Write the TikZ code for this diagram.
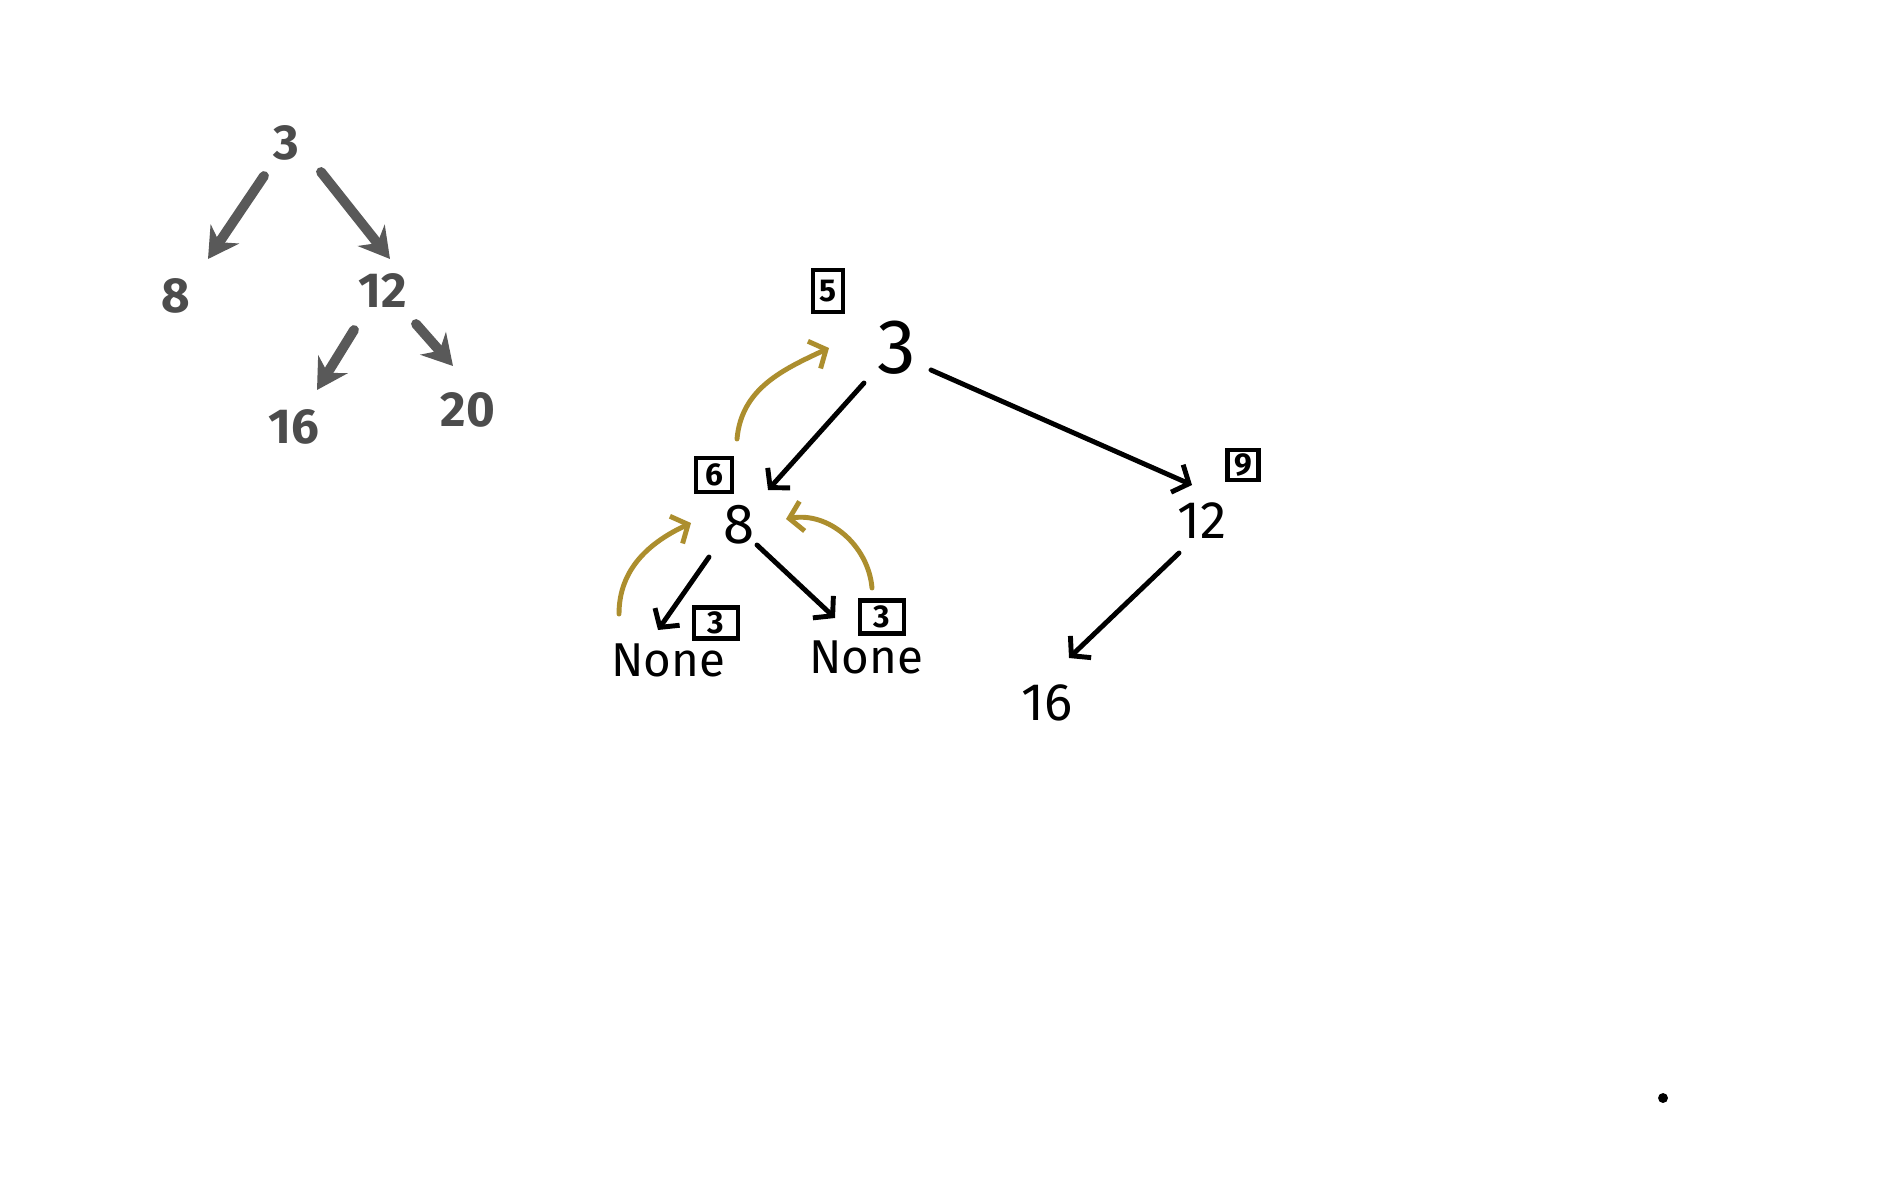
\documentclass[tikz,border=0pt]{standalone}
\usepackage{fontspec}
\setsansfont{Fira Sans}
\usepackage{tikz}
\usetikzlibrary{arrows.meta}
\definecolor{gold}{RGB}{172,142,46}

\begin{document}
\begin{tikzpicture}[x=0.01cm,y=0.01cm,
  lbl/.style = {inner sep=2pt, font=\sffamily\fontsize{15}{18}\selectfont},
  box/.style = {draw, line width=1.3pt, inner sep=1pt, font=\sffamily\bfseries\fontsize{9}{10}\selectfont},
  link/.style = {line width=1.4pt, line cap=round, -{Straight Barb[length=1.3mm,width=3mm]}},
  back/.style = {draw=gold, line width=1.4pt, line cap=round, -{Straight Barb[length=1.3mm,width=3mm]}},
  fog/.style = {inner sep=2pt, text=black!70, font=\sffamily\bfseries\fontsize{14}{16}\selectfont},
  fogedge/.style = {draw=black!65, line width=2.8pt, line cap=round, -{Stealth[length=3mm,width=3.4mm]}}]
\fill[white] (0,0) rectangle (1900,-1200);
\useasboundingbox (0,0) rectangle (1900,-1200);

% blurred tree
\node[fog] (a3) at (286,-143) {3};
\node[fog] (a8) at (176,-296) {8};
\node[fog] (a12) at (383,-291) {12};
\node[fog] (a16) at (294,-427) {16};
\node[fog] (a20) at (468,-410) {20};
\draw[fogedge] ([shift={(-22,-33)}]a3.center) -- ([shift={(32,37)}]a8.center);
\draw[fogedge] ([shift={(35,-29)}]a3.center) -- ([shift={(7,32)}]a12.center);
\draw[fogedge] ([shift={(-29,-39)}]a12.center) -- ([shift={(23,37)}]a16.center);
\draw[fogedge] ([shift={(33,-33)}]a12.center) -- ([shift={(-15,44)}]a20.center);

% main tree
\node[lbl, font=\sffamily\fontsize{22}{24}\selectfont] (3) at (897,-348) {3};
\node[lbl, font=\sffamily\fontsize{16}{18}\selectfont] (8) at (739,-525) {8};
\node[lbl] (12) at (1202,-521) {12};
\node[lbl, font=\sffamily\fontsize{13.5}{16}\selectfont] (nl) at (668,-660) {None};
\node[lbl, font=\sffamily\fontsize{13.5}{16}\selectfont] (nr) at (866,-657) {None};
\node[lbl] (16) at (1047,-703) {16};
\draw[link] ([shift={(-33,-35)}]3.center) -- ([shift={(29,35)}]8.center);
\draw[link] ([shift={(34,-22)}]3.center) -- ([shift={(-10,36)}]12.center);
\draw[link] ([shift={(-30,-32)}]8.center) -- ([shift={(-10,30)}]nl.center);
\draw[link] ([shift={(18,-20)}]8.center) -- ([shift={(-31,39)}]nr.center);
\draw[link] ([shift={(-23,-32)}]12.center) -- ([shift={(22,45)}]16.center);

% counts
\node[box, minimum width=0.3cm, minimum height=0.42cm] (s5) at (828,-291) {5};
\node[box, minimum width=0.36cm, minimum height=0.34cm] (s6) at (714,-475) {6};
\node[box, minimum width=0.44cm, minimum height=0.31cm] (s3a) at (716,-623) {3};
\node[box, minimum width=0.44cm, minimum height=0.33cm] (s3b) at (882,-617) {3};
\node[box, minimum width=0.31cm, minimum height=0.29cm] (s9) at (1243,-465) {9};

% returns
\draw[back] ([shift={(-2,86)}]8.center) to[out=85,in=205] ([shift={(-68,0)}]3.center);
\draw[back] ([shift={(-49,46)}]nl.center) to[out=90,in=205] ([shift={(-48,2)}]8.center);
\draw[back] ([shift={(6,69)}]nr.center) to[out=95,in=10] ([shift={(47,6)}]8.center);

\node[circle, fill, inner sep=1pt] (dot) at (1663,-1098) {};
\end{tikzpicture}
\end{document}
